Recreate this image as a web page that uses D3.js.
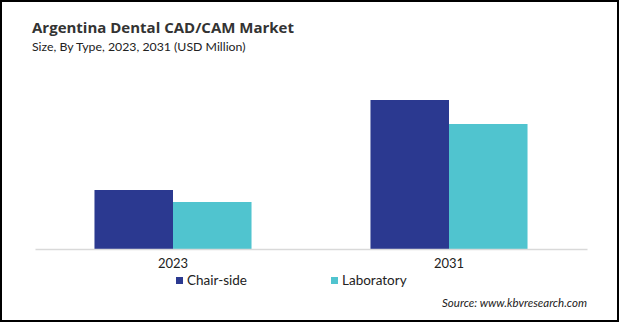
<!DOCTYPE html>
<html>
<head>
<meta charset="utf-8">
<script src="https://cdn.jsdelivr.net/npm/d3@7"></script>
<style>
  body { margin: 0; background: #fff; }
</style>
</head>
<body>
<script>
const years = ['2023', '2031'];
const types = ['Chair-side', 'Laboratory'];
const chair_side = [11.8, 29.8];
const laboratory = [9.4, 25.0];
const type_colors = ['#2b3990', '#50c4cf'];

const _svg_width = 619;
const _svg_height = 322;
const _baseline = 249;
const _font = 'Lato, "Open Sans", sans-serif';

const svg = d3.select('body')
    .append('svg')
    .attr('width', _svg_width)
    .attr('height', _svg_height)
    .style('display', 'block');

svg.append('rect')
    .attr('x', 1).attr('y', 1)
    .attr('width', _svg_width - 2).attr('height', _svg_height - 2)
    .attr('fill', '#fff')
    .attr('stroke', '#000')
    .attr('stroke-width', 2);

svg.append('text')
    .attr('x', 32).attr('y', 33)
    .style('font-family', '"Open Sans", sans-serif')
    .style('font-weight', 'bold')
    .style('font-size', '15px')
    .attr('fill', '#333')
    .text('Argentina Dental CAD/CAM Market');

svg.append('text')
    .attr('x', 32).attr('y', 51)
    .style('font-family', _font)
    .style('font-size', '12.3px')
    .attr('fill', '#222')
    .text('Size, By Type, 2023, 2031 (USD Million)');

const x = d3.scaleBand()
    .domain(years)
    .range([35, 587])
    .paddingInner(0.431)
    .paddingOuter(0.2155);

const x_inner = d3.scaleBand()
    .domain(types)
    .range([0, x.bandwidth()]);

const y = d3.scaleLinear()
    .domain([0, 30])
    .range([_baseline, _baseline - 150]);

const rows = years.map((yr, i) => ({ year: yr, values: [chair_side[i], laboratory[i]] }));

const groups = svg.selectAll('g.grp')
    .data(rows)
    .join('g')
    .attr('class', 'grp')
    .attr('transform', d => `translate(${x(d.year)},0)`);

groups.selectAll('rect')
    .data(d => d.values.map((v, k) => ({ type: types[k], value: v, k: k })))
    .join('rect')
    .attr('x', d => x_inner(d.type))
    .attr('y', d => y(d.value))
    .attr('width', x_inner.bandwidth())
    .attr('height', d => _baseline - y(d.value))
    .attr('fill', d => type_colors[d.k]);

const x_axis = svg.append('g')
    .attr('transform', `translate(0,${_baseline})`)
    .call(d3.axisBottom(x).tickSize(0).tickPadding(10).tickSizeOuter(0));
x_axis.select('.domain').attr('stroke', '#d9d9d9').attr('stroke-width', 1.5);
x_axis.selectAll('text')
    .style('font-family', _font)
    .style('font-size', '13px')
    .attr('fill', '#222');

const legend_x = [176, 331];
const legend = svg.selectAll('g.legend')
    .data(types)
    .join('g')
    .attr('class', 'legend')
    .attr('transform', (d, i) => `translate(${legend_x[i]},277)`);
legend.append('rect')
    .attr('width', 7).attr('height', 7)
    .attr('fill', (d, i) => type_colors[i]);
legend.append('text')
    .attr('x', 11).attr('y', 8)
    .style('font-family', _font)
    .style('font-size', '13.5px')
    .attr('fill', '#222')
    .text(d => d);

svg.append('text')
    .attr('x', 587).attr('y', 307)
    .attr('text-anchor', 'end')
    .style('font-family', _font)
    .style('font-style', 'italic')
    .style('font-size', '11.5px')
    .attr('fill', '#222')
    .text('Source: www.kbvresearch.com');
</script>
</body>
</html>
